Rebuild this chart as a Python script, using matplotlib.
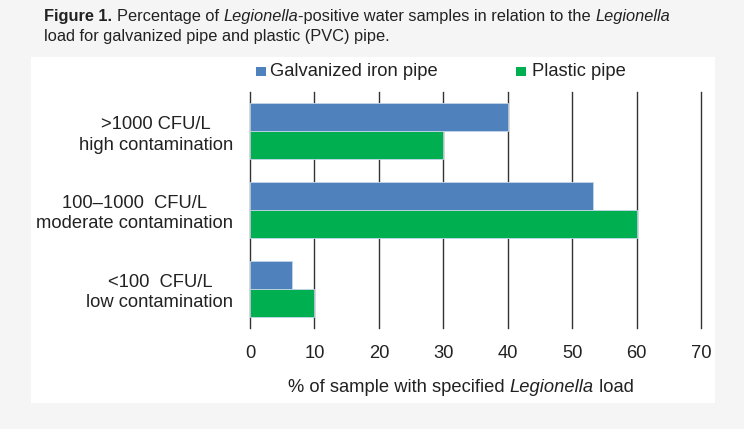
import matplotlib
matplotlib.use("Agg")
import matplotlib.pyplot as plt
from matplotlib.patches import Rectangle
import numpy as np

categories = [">1000 CFU/L\nhigh contamination",
              "100\u20131000  CFU/L\nmoderate contamination",
              "<100  CFU/L\nlow contamination"]
galvanized = [40, 53.3, 6.5]
plastic = [30, 60, 10]
xticks = [0, 10, 20, 30, 40, 50, 60, 70]
series_names = ["Galvanized iron pipe", "Plastic pipe"]
colors = ["#4f81bd", "#00b050"]

W, H = 744, 429
fig = plt.figure(figsize=(W/100, H/100), dpi=100)
fig.patch.set_facecolor("#f5f5f5")

fig.patches.append(Rectangle((31/W, 1-403/H), (715-31)/W, (403-57)/H,
                             transform=fig.transFigure, facecolor="white",
                             edgecolor="none", zorder=-5))

fig.canvas.draw()
r = fig.canvas.get_renderer()

def pieces(parts, x0, ypix, fontsize, family, ha="left"):
    texts = []
    x = x0
    for s, w, st in parts:
        t = fig.text(x/W, 1-ypix/H, s, fontsize=fontsize, family=family,
                     fontweight=w, style=st, va="center", ha="left", color="#222222")
        bb = t.get_window_extent(r)
        x = bb.x1
        texts.append(t)
    if ha == "center":
        shift = -(x - x0)/2
        for t in texts:
            px, py = t.get_position()
            t.set_position((px + shift/W, py))
    return texts

title_font = ["Liberation Sans Narrow", "Liberation Sans", "DejaVu Sans"]
pieces([("Figure 1. ", "bold", "normal"),
        ("Percentage of ", "normal", "normal"),
        ("Legionella", "normal", "italic"),
        ("-positive water samples in relation to the ", "normal", "normal"),
        ("Legionella", "normal", "italic")], 44, 17, 11.75, title_font)
pieces([("load for galvanized pipe and plastic (PVC) pipe.", "normal", "normal")],
       44, 37, 11.75, title_font)

lab_font = ["Liberation Sans", "DejaVu Sans"]
FS = 13.2
ax = fig.add_axes([250/W, 1-328/H, (701-250)/W, (328-92)/H])
ax.set_facecolor("none")
y = np.arange(len(categories))[::-1]
h = 0.355
b1 = ax.barh(y + h/2, galvanized, height=h, color=colors[0], edgecolor="#c5d5ea",
             linewidth=0.6, zorder=3, label=series_names[0])
b2 = ax.barh(y - h/2, plastic, height=h, color=colors[1], edgecolor="#c5d5ea",
             linewidth=0.6, zorder=3, label=series_names[1])
ax.set_xlim(0, 70)
ax.set_ylim(-0.5, 2.5)
ax.set_xticks(xticks)
ax.set_xticklabels([str(v) for v in xticks], fontsize=FS, family=lab_font, color="#222222")
ax.set_yticks(y)
ax.set_yticklabels(categories, fontsize=FS, family=lab_font,
                   color="#222222", multialignment="center", linespacing=1.25)
ax.tick_params(axis="both", length=0)
ax.tick_params(axis="x", pad=12)
ax.tick_params(axis="y", pad=12)
for v in xticks:
    ax.axvline(v, color="#333333", linewidth=1.0, zorder=1, clip_on=False)
for s in ax.spines.values():
    s.set_visible(False)

pieces([("% of sample with specified ", "normal", "normal"),
        ("Legionella", "normal", "italic"),
        (" load", "normal", "normal")], 461, 387.5, FS, lab_font, ha="center")

# legend (manual)
for (sx, tx), name, c in zip([(256, 270), (516, 532)], series_names, colors):
    fig.patches.append(Rectangle((sx/W, 1-76/H), 9.5/W, 8.5/H, transform=fig.transFigure,
                                 facecolor=c, edgecolor="none"))
    fig.text(tx/W, 1-71.5/H, name, fontsize=FS, family=lab_font, va="center",
             ha="left", color="#222222")

fig.savefig("out.png", dpi=100, facecolor=fig.get_facecolor())
